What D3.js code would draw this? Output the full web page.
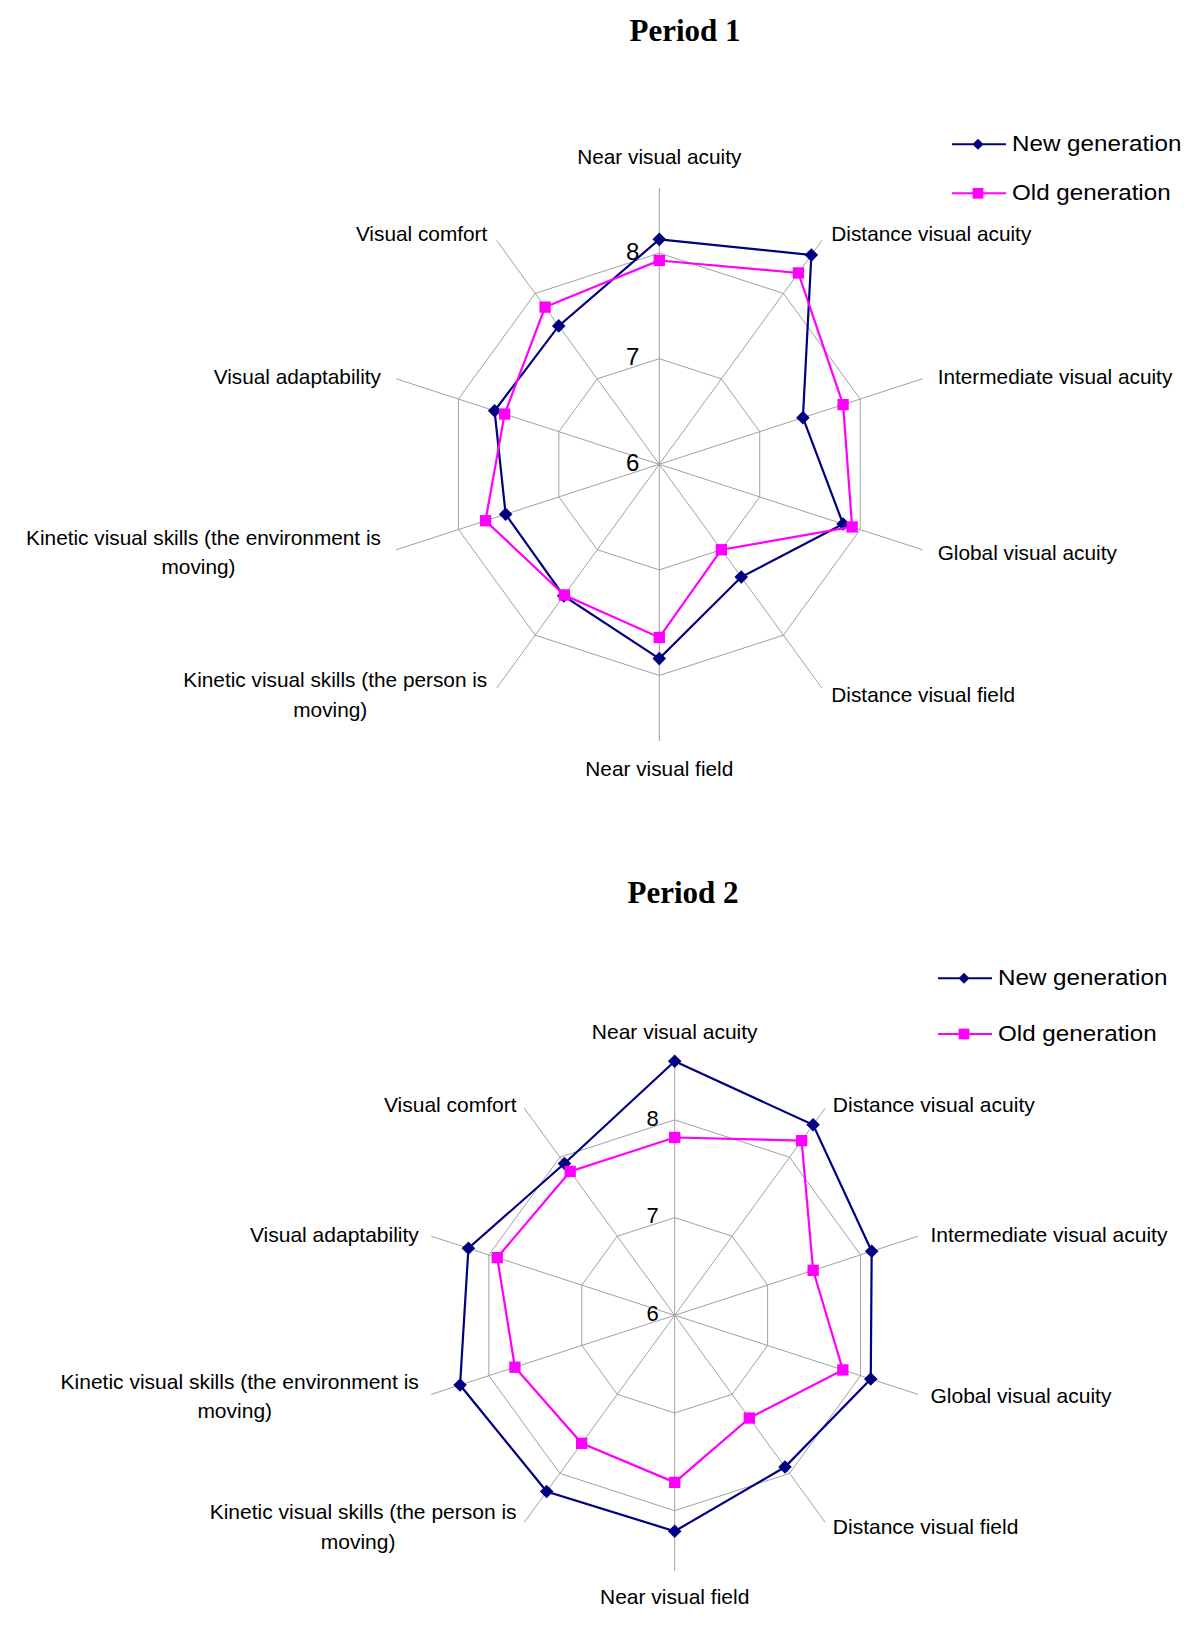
<!DOCTYPE html>
<html>
<head>
<meta charset="utf-8">
<script src="https://cdn.jsdelivr.net/npm/d3@7"></script>
<style>
  body { margin: 0; background: #fff; }
  svg { display: block; }
  text { font-family: "Liberation Sans", Arial, sans-serif; fill: #000; }
  .title { font-family: "Liberation Serif", "Times New Roman", serif; font-weight: bold; }
</style>
</head>
<body>
<script>
const width = 1200;
const height = 1626;

// axes, clockwise from the top
const categories = [
  'Near visual acuity',
  'Distance visual acuity',
  'Intermediate visual acuity',
  'Global visual acuity',
  'Distance visual field',
  'Near visual field',
  'Kinetic visual skills (the person is moving)',
  'Kinetic visual skills (the environment is moving)',
  'Visual adaptability',
  'Visual comfort'
];
const ticks = [6, 7, 8];
const axisMax = 8.62;
const seriesNames = ['New generation', 'Old generation'];

const period1New = [8.13, 8.45, 7.43, 7.83, 7.32, 7.84, 7.54, 7.53, 7.64, 7.62];
const period1Old = [7.93, 8.24, 7.83, 7.92, 7.00, 7.64, 7.53, 7.73, 7.54, 7.84];
const period2New = [8.60, 8.41, 8.12, 8.11, 7.92, 8.21, 8.23, 8.31, 8.22, 7.92];
const period2Old = [7.82, 8.21, 7.49, 7.81, 7.30, 7.71, 7.62, 7.72, 7.91, 7.82];

const colors = ['#000080', '#ff00ff'];

const charts = [
  { title: 'Period 1', series: [period1New, period1Old],
    cx: 659.3, cy: 464.3, unit: 105.6, titleX: 685, titleY: 41,
    labelSize: 20.8, tickSize: 24, tickDx: 20,
    labelPad: 16, labelDy: 8, topPad: 31, bottomPad: 28,
    legendX: 952, legendY: 144.3, legendGap: 49 },
  { title: 'Period 2', series: [period2New, period2Old],
    cx: 674.7, cy: 1315.3, unit: 97.7, titleX: 683, titleY: 903,
    labelSize: 21, tickSize: 22, tickDx: 16,
    labelPad: 13, labelDy: 5, topPad: 28, bottomPad: 25,
    legendX: 938, legendY: 978.3, legendGap: 55.7 }
];

const svg = d3.select('body')
  .append('svg')
  .attr('width', width)
  .attr('height', height);

const step = 2 * Math.PI / categories.length;

function wrapLabel(s) {
  if (s.length <= 30) return [s];
  const i = s.lastIndexOf(' ');
  return [s.slice(0, i), s.slice(i + 1)];
}

function marker(size) {
  return d3.symbol(d3.symbolSquare, size)();
}

charts.forEach(c => {
  const g = svg.append('g');
  const r = d3.scaleLinear().domain([6, 8]).range([0, 2 * c.unit]);
  const px = (v, i) => c.cx + r(v) * Math.sin(i * step);
  const py = (v, i) => c.cy - r(v) * Math.cos(i * step);

  g.append('text')
    .attr('class', 'title')
    .attr('x', c.titleX)
    .attr('y', c.titleY)
    .attr('text-anchor', 'middle')
    .style('font-size', '31px')
    .text(c.title);

  // grid rings
  const ring = d3.lineRadial()
    .angle((d, i) => i * step)
    .radius(d => r(d))
    .curve(d3.curveLinearClosed);

  g.selectAll('.ring')
    .data(ticks.slice(1))
    .join('path')
    .attr('transform', `translate(${c.cx},${c.cy})`)
    .attr('d', t => ring(categories.map(() => t)))
    .attr('fill', 'none')
    .attr('stroke', '#a0a0a0')
    .attr('stroke-width', 1);

  // spokes
  g.selectAll('.spoke')
    .data(categories)
    .join('line')
    .attr('x1', c.cx)
    .attr('y1', c.cy)
    .attr('x2', (d, i) => px(axisMax, i))
    .attr('y2', (d, i) => py(axisMax, i))
    .attr('stroke', '#a0a0a0')
    .attr('stroke-width', 1);

  // tick labels
  g.selectAll('.tick')
    .data(ticks)
    .join('text')
    .attr('x', c.cx - c.tickDx)
    .attr('y', t => c.cy - r(t) - 2)
    .attr('dy', '0.35em')
    .attr('text-anchor', 'end')
    .style('font-size', c.tickSize + 'px')
    .text(t => t);

  // category labels
  categories.forEach((name, i) => {
    const a = i * step;
    const s = Math.sin(a), co = Math.cos(a);
    const ex = px(axisMax, i), ey = py(axisMax, i);
    const lines = wrapLabel(name);
    const lh = 29.5;
    let x, y, anchor;
    if (Math.abs(s) < 0.01) {
      x = ex; anchor = 'middle';
      y = co > 0 ? ey - c.topPad : ey + c.bottomPad;
    } else {
      x = ex + s * c.labelPad;
      y = ey - co * c.labelDy;
      anchor = s > 0 ? 'start' : 'end';
    }
    const t = g.append('text')
      .style('font-size', c.labelSize + 'px');
    lines.forEach((ln, k) => {
      t.append('tspan')
        .attr('x', x)
        .attr('y', y + (k - (lines.length - 1) / 2) * lh)
        .attr('dy', '0.35em')
        .text(ln);
    });
    if (lines.length > 1) {
      // centred block, aligned to the anchor side
      const w = d3.max(t.selectAll('tspan').nodes(), n => n.getComputedTextLength());
      const mid = anchor === 'end' ? x - w / 2 : x + w / 2;
      t.attr('text-anchor', 'middle').selectAll('tspan')
        .attr('x', (d, k) => k === 0 ? mid : mid - 5);
    } else {
      t.attr('text-anchor', anchor);
    }
  });

  // series
  const line = d3.lineRadial()
    .angle((d, i) => i * step)
    .radius(d => r(d))
    .curve(d3.curveLinearClosed);

  c.series.forEach((vals, si) => {
    g.append('path')
      .attr('transform', `translate(${c.cx},${c.cy})`)
      .attr('d', line(vals))
      .attr('fill', 'none')
      .attr('stroke', colors[si])
      .attr('stroke-width', 2.2);

    g.selectAll(null)
      .data(vals)
      .join('path')
      .attr('transform', (d, i) => `translate(${px(d, i)},${py(d, i)})` + (si === 0 ? ' rotate(45)' : ''))
      .attr('d', si === 0 ? marker(92) : marker(128))
      .attr('fill', colors[si]);
  });

  // legend
  seriesNames.forEach((name, si) => {
    const ly = c.legendY + si * c.legendGap;
    const lg = g.append('g');
    lg.append('line')
      .attr('x1', c.legendX)
      .attr('x2', c.legendX + 54)
      .attr('y1', ly)
      .attr('y2', ly)
      .attr('stroke', colors[si])
      .attr('stroke-width', 2);
    lg.append('path')
      .attr('transform', `translate(${c.legendX + 26},${ly})` + (si === 0 ? ' rotate(45)' : ''))
      .attr('d', si === 0 ? marker(60) : marker(115))
      .attr('fill', colors[si]);
    lg.append('text')
      .attr('transform', `translate(${c.legendX + 60},${ly + 7}) scale(1.1,1)`)
      .style('font-size', '22px')
      .text(name);
  });
});
</script>
</body>
</html>
